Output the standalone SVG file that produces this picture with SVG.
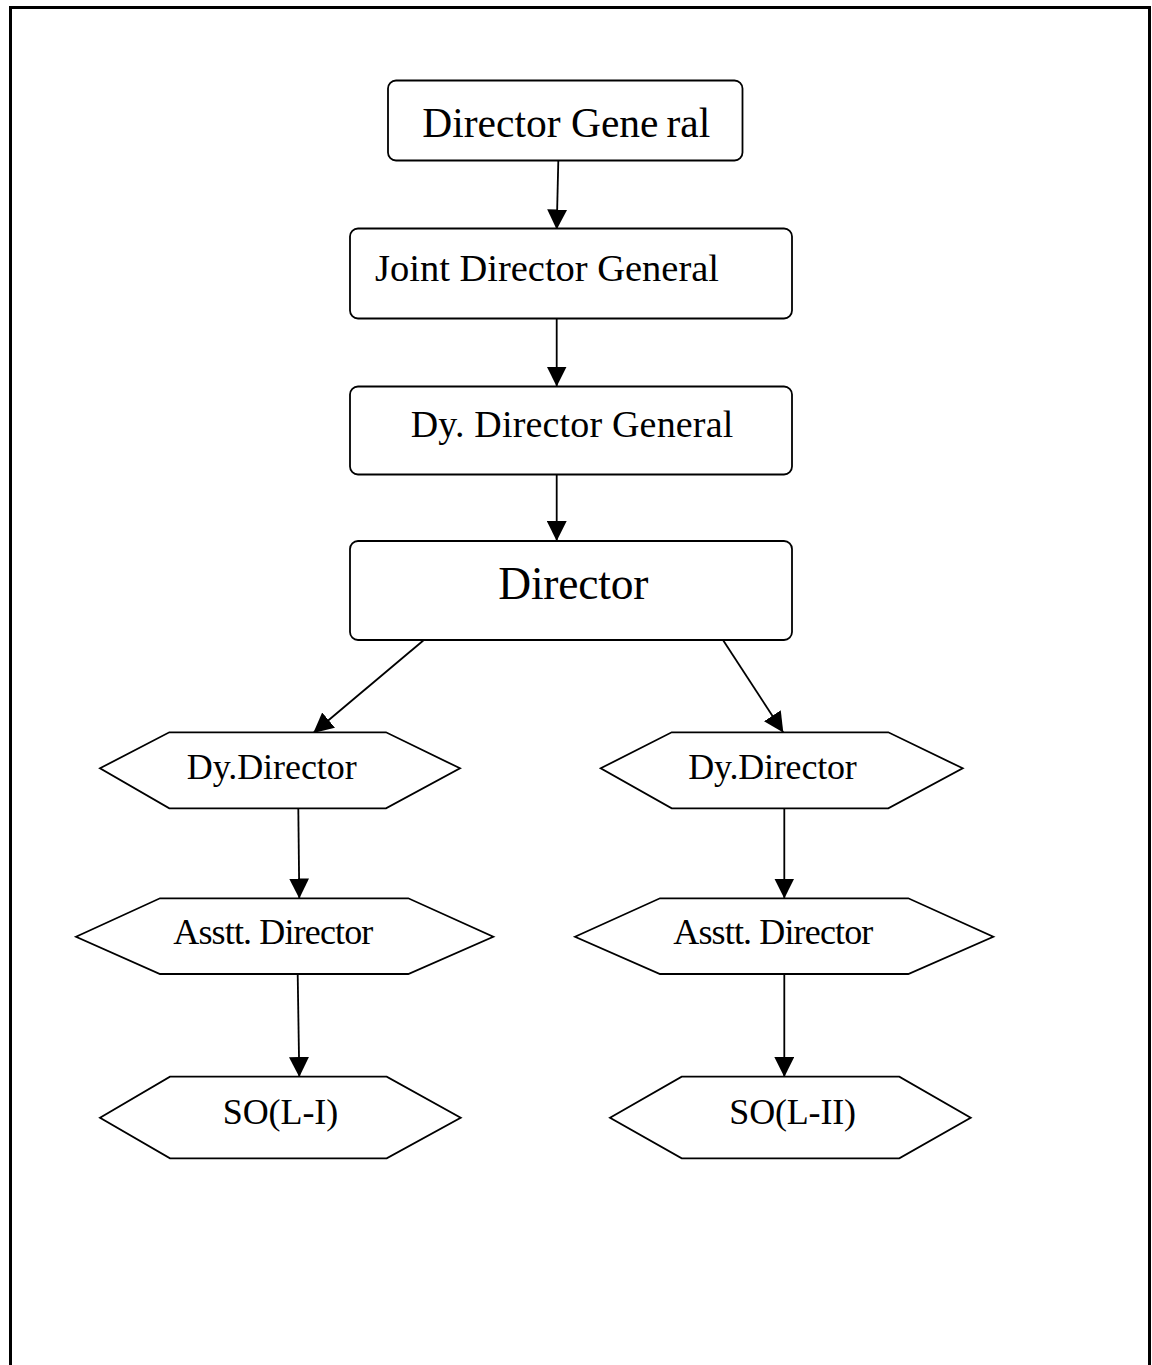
<svg xmlns="http://www.w3.org/2000/svg" width="1152" height="1365" viewBox="0 0 1152 1365">
  <style>
    .box { fill: #ffffff; stroke: #000000; stroke-width: 1.8; }
    .hex { fill: #ffffff; stroke: #000000; stroke-width: 1.8; }
    .lbl { font-family: "Liberation Serif", "Times New Roman", serif; fill: #000000; text-anchor: start; }
    .edge { stroke: #000000; stroke-width: 1.8; fill: none; marker-end: url(#arrow); }
  </style>
  <defs>
    <marker id="arrow" viewBox="0 0 20 20" refX="20" refY="10" markerWidth="20" markerHeight="20" markerUnits="userSpaceOnUse" orient="auto">
      <path d="M0,0 L20,10 L0,20 Z" fill="#000000"/>
    </marker>
  </defs>

  <rect width="1152" height="1365" fill="#ffffff"/>
  <!-- page frame, open at the bottom -->
  <path d="M10.5,1365 L10.5,7.5 L1149.5,7.5 L1149.5,1365" fill="none" stroke="#000000" stroke-width="3"/>

  <g id="connectors">
    <line class="edge" x1="558.3" y1="161" x2="556.7" y2="229.5"/>
    <line class="edge" x1="556.7" y1="319" x2="556.7" y2="386.5"/>
    <line class="edge" x1="556.7" y1="475" x2="556.7" y2="541"/>
    <line class="edge" x1="423.3" y1="640.5" x2="313.3" y2="733"/>
    <line class="edge" x1="723.3" y1="640.5" x2="783.3" y2="732.5"/>
    <line class="edge" x1="298.3" y1="808.5" x2="299.3" y2="898.5"/>
    <line class="edge" x1="784.3" y1="808.5" x2="784.3" y2="898.5"/>
    <line class="edge" x1="297.7" y1="974.5" x2="299.3" y2="1077"/>
    <line class="edge" x1="784.3" y1="974.5" x2="784.3" y2="1077"/>
  </g>

  <g id="director-general">
    <rect class="box" x="388" y="80.5" width="354.5" height="80" rx="8"/>
    <text class="lbl" x="422.3" y="136.7" font-size="41.5">Director Gene<tspan dx="8">ral</tspan></text>
  </g>

  <g id="joint-director-general">
    <rect class="box" x="350" y="228.5" width="442" height="90" rx="8"/>
    <text class="lbl" x="375" y="280.7" font-size="38.5" textLength="344" lengthAdjust="spacing">Joint Director General</text>
  </g>

  <g id="dy-director-general">
    <rect class="box" x="350" y="386.5" width="442" height="88" rx="8"/>
    <text class="lbl" x="410.7" y="437.3" font-size="38" textLength="322.6" lengthAdjust="spacing">Dy. Director General</text>
  </g>

  <g id="director">
    <rect class="box" x="350" y="541" width="442" height="99" rx="8"/>
    <text class="lbl" x="498.3" y="599" font-size="45.5" textLength="150" lengthAdjust="spacing">Director</text>
  </g>

  <g id="dy-director-left">
    <polygon class="hex" points="100,768.3 169.3,732.3 386,732.3 460,768.3 386,808.3 169.3,808.3"/>
    <text class="lbl" x="186.7" y="779" font-size="36" textLength="170" lengthAdjust="spacing">Dy.Director</text>
  </g>

  <g id="dy-director-right">
    <polygon class="hex" points="600.7,768.3 671.7,732.3 888.3,732.3 962.7,768.3 888.3,808.3 671.7,808.3"/>
    <text class="lbl" x="688.3" y="779" font-size="36" textLength="168.4" lengthAdjust="spacing">Dy.Director</text>
  </g>

  <g id="asstt-director-left">
    <polygon class="hex" points="76,936.7 160,898.3 408.3,898.3 493.3,936.7 408.3,974 160,974"/>
    <text class="lbl" x="173.3" y="944.3" font-size="36" textLength="200" lengthAdjust="spacing">Asstt. Director</text>
  </g>

  <g id="asstt-director-right">
    <polygon class="hex" points="575,936.7 660,898.3 908.3,898.3 993.3,936.7 908.3,974 660,974"/>
    <text class="lbl" x="673.3" y="944.3" font-size="36" textLength="200" lengthAdjust="spacing">Asstt. Director</text>
  </g>

  <g id="so-l-i">
    <polygon class="hex" points="100,1117.7 170,1076.7 386.7,1076.7 460.7,1117.7 386.7,1158.3 170,1158.3"/>
    <text class="lbl" x="222.7" y="1124" font-size="36" textLength="115.6" lengthAdjust="spacing">SO(L-I)</text>
  </g>

  <g id="so-l-ii">
    <polygon class="hex" points="610,1117.7 681.7,1076.7 899.3,1076.7 970.7,1117.7 899.3,1158.3 681.7,1158.3"/>
    <text class="lbl" x="729.3" y="1124" font-size="36" textLength="126.7" lengthAdjust="spacing">SO(L-II)</text>
  </g>
</svg>
